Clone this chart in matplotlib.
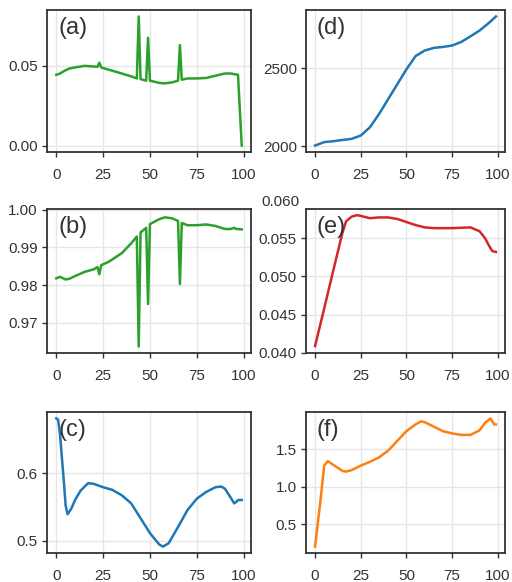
#!/usr/bin/env python3
"""Six-panel line figure (a)-(f), redrawn from a reference picture."""

import matplotlib

matplotlib.use("Agg")
import matplotlib.pyplot as plt
from matplotlib import transforms
from matplotlib.ticker import FormatStrFormatter

INK = "#333333"
GRID = "#e6e6e6"
GREEN = "#2ca02c"
BLUE = "#1f77b4"
RED = "#d62728"
ORANGE = "#ff7f0e"

# (a)
a_x = [0, 2, 5, 7, 10, 15, 20, 22, 23, 24, 30, 35, 40, 43, 44, 45, 48, 49, 50,
       55, 58, 62, 65, 66, 67, 70, 75, 80, 85, 90, 93, 97, 99]
a_y = [0.0444, 0.0452, 0.0473, 0.0483, 0.0490, 0.0500, 0.0496, 0.0494, 0.0520,
       0.0490, 0.0469, 0.0452, 0.0434, 0.0421, 0.0810, 0.0417, 0.0407, 0.0676,
       0.0407, 0.0393, 0.0390, 0.0397, 0.0407, 0.0630, 0.0413, 0.0421, 0.0421,
       0.0424, 0.0438, 0.0452, 0.0452, 0.0444, 0.0]

# (b)
b_x = [0, 2, 5, 7, 10, 15, 20, 22, 23, 24, 28, 35, 40, 43, 44, 45, 48, 49, 50,
       55, 58, 62, 65, 66, 67, 70, 75, 80, 85, 90, 93, 95, 96, 99]
b_y = [0.9818, 0.9822, 0.9815, 0.9817, 0.9824, 0.9835, 0.9842, 0.9848, 0.9829,
       0.9853, 0.9862, 0.9885, 0.9911, 0.9929, 0.9637, 0.9940, 0.9952, 0.9750,
       0.9962, 0.9975, 0.9980, 0.9977, 0.9970, 0.9803, 0.9965, 0.9959, 0.9959,
       0.9961, 0.9957, 0.9949, 0.9949, 0.9952, 0.9949, 0.9948]

# (c)
c_x = [0, 1, 2, 4, 5, 6, 8, 10, 13, 17, 20, 25, 30, 35, 40, 45, 50, 55, 57,
       60, 65, 70, 75, 80, 85, 88, 90, 93, 95, 96, 97, 99]
c_y = [0.681, 0.679, 0.657, 0.589, 0.552, 0.539, 0.547, 0.560, 0.574, 0.585,
       0.584, 0.579, 0.575, 0.567, 0.555, 0.533, 0.511, 0.494, 0.491, 0.496,
       0.520, 0.545, 0.562, 0.572, 0.579, 0.580, 0.577, 0.564, 0.555, 0.557,
       0.560, 0.560]

# (d)
d_x = [0, 5, 10, 15, 20, 25, 30, 35, 40, 45, 50, 55, 60, 65, 70, 75, 80, 85,
       90, 95, 99]
d_y = [2004, 2026, 2032, 2040, 2047, 2068, 2121, 2206, 2302, 2398, 2494, 2579,
       2615, 2632, 2638, 2647, 2670, 2706, 2743, 2791, 2834]

# (e)
e_x = [0, 5, 10, 15, 17, 20, 23, 25, 30, 35, 40, 45, 50, 55, 60, 65, 75, 85,
       90, 93, 95, 97, 99]
e_y = [0.0409, 0.0458, 0.0508, 0.0557, 0.0572, 0.0578, 0.0580, 0.0579, 0.0576,
       0.0577, 0.0577, 0.0575, 0.0571, 0.0567, 0.0564, 0.0563, 0.0563, 0.0564,
       0.0559, 0.0550, 0.0541, 0.0533, 0.0532]

# (f)
f_x = [0, 3, 5, 7, 10, 15, 17, 20, 25, 30, 35, 40, 45, 50, 55, 58, 60, 65, 70,
       75, 80, 85, 90, 93, 96, 98, 99]
f_y = [0.20, 0.82, 1.28, 1.34, 1.29, 1.21, 1.20, 1.22, 1.28, 1.33, 1.39, 1.48,
       1.61, 1.74, 1.83, 1.87, 1.86, 1.80, 1.74, 1.71, 1.69, 1.69, 1.75, 1.85,
       1.91, 1.83, 1.83]

x_ticks = [0, 25, 50, 75, 100]

plt.rcParams.update(
    {
        "font.family": ["Liberation Sans", "DejaVu Sans"],
        "font.size": 11,
        "text.color": INK,
        "xtick.color": INK,
        "ytick.color": INK,
        "xtick.labelcolor": INK,
        "ytick.labelcolor": INK,
        "axes.edgecolor": INK,
    }
)

W, H = 512, 582
fig = plt.figure(figsize=(W / 100, H / 100), dpi=100)


def box(left, top, right, bottom):
    return [left / W, 1 - bottom / H, (right - left) / W, (bottom - top) / H]


def panel(rect, xs, ys, color, label, yticks, fmt):
    ax = fig.add_axes(box(*rect))
    ax.plot(xs, ys, color=color, linewidth=1.8, solid_joinstyle="round")
    ax.set_xticks(x_ticks)
    ax.set_yticks(yticks)
    ax.yaxis.set_major_formatter(FormatStrFormatter(fmt))
    ax.grid(True, color=GRID, linewidth=1.0)
    ax.set_axisbelow(True)
    for side in ax.spines.values():
        side.set_linewidth(1.3)
        side.set_color(INK)
    ax.tick_params(direction="out", length=3.5, width=1.0,
                   labelsize=11, top=False, right=False)
    ax.tick_params(axis="x", pad=8)
    ax.tick_params(axis="y", pad=3)
    ax.text(0.055, 0.95, label, transform=ax.transAxes, ha="left", va="top",
            fontsize=17, color=INK)
    return ax


ax_a = panel((47, 10, 251, 152), a_x, a_y, GREEN, "(a)", [0.0, 0.05], "%.2f")
ax_b = panel((47, 209, 251, 353), b_x, b_y, GREEN, "(b)",
             [0.97, 0.98, 0.99, 1.00], "%.2f")
ax_b.set_ylim(0.962, 1.0002)
ax_c = panel((47, 412, 251, 553), c_x, c_y, BLUE, "(c)", [0.5, 0.6], "%.1f")
ax_d = panel((306, 10, 505, 152), d_x, d_y, BLUE, "(d)", [2000, 2500], "%d")
ax_e = panel((306, 209, 505, 353), e_x, e_y, RED, "(e)",
             [0.040, 0.045, 0.050, 0.055], "%.3f")
ax_e.set_ylim(0.0400, 0.0588)
trans = transforms.blended_transform_factory(ax_e.transAxes, ax_e.transData)
ax_e.text(-0.035, 0.0597, "0.060", transform=trans, ha="right", va="center",
          fontsize=11, color=INK, clip_on=False)
ax_f = panel((306, 412, 505, 553), f_x, f_y, ORANGE, "(f)", [0.5, 1.0, 1.5], "%.1f")

fig.savefig("out.png", dpi=100, facecolor="white")
